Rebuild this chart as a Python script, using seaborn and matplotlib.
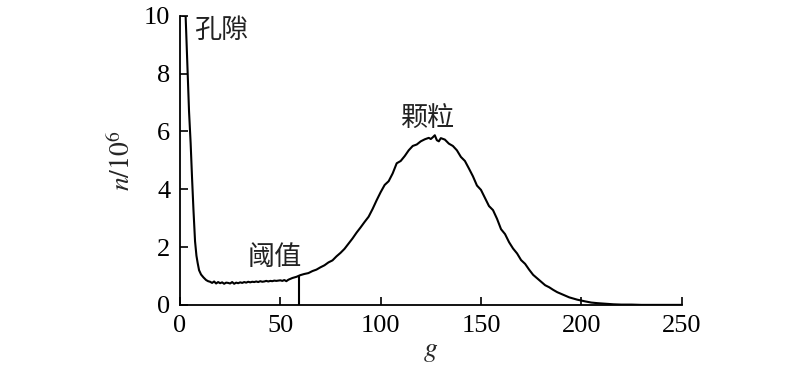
import matplotlib
matplotlib.use("Agg")
import matplotlib.pyplot as plt
import seaborn as sns
import pandas as pd

# ---- data ----
gray_level = [1.2, 2.8, 3.3, 3.8, 4.5, 5.3, 6.0, 6.7, 7.5, 8.2, 8.8, 9.5, 10.5, 11.7, 13, 14,
              15, 16, 17, 18, 19, 20, 21, 22, 23, 24, 25, 26, 27, 28, 29, 30, 31, 32, 33, 34,
              35, 36, 37, 38, 39, 40, 41, 42, 43, 44, 45, 46, 47, 48, 49, 50, 51, 52, 53, 54,
              55, 56, 57, 58, 59, 60, 62, 64, 66, 68, 70, 72, 74, 76, 78, 80, 82, 84, 86, 88,
              90, 92, 94, 96, 98, 100, 102, 104, 106, 108, 110, 112, 114, 116, 118, 120, 122,
              124, 125, 126, 127, 128, 129, 130, 132, 134, 136, 138, 140, 142, 144, 146, 148,
              150, 152, 154, 156, 158, 160, 162, 164, 166, 168, 170, 172, 174, 176, 178, 180,
              182, 184, 186, 188, 190, 192, 194, 196, 198, 200, 202, 205, 208, 212, 216, 220,
              225, 230, 240, 250]
count_1e6 = [10.0, 10.0, 9.0, 7.9, 6.7, 5.6, 4.4, 3.3, 2.2, 1.7, 1.45, 1.2, 1.05, 0.95, 0.86, 0.82,
             0.80, 0.76, 0.81, 0.74, 0.79, 0.75, 0.78, 0.73, 0.77, 0.76, 0.74, 0.79, 0.73, 0.77,
             0.75, 0.78, 0.76, 0.79, 0.77, 0.80, 0.78, 0.80, 0.79, 0.81, 0.79, 0.82, 0.80, 0.81,
             0.83, 0.81, 0.83, 0.82, 0.84, 0.83, 0.84, 0.85, 0.83, 0.86, 0.82, 0.87, 0.90, 0.93,
             0.95, 0.97, 1.00, 1.03, 1.07, 1.10, 1.17, 1.22, 1.30, 1.37, 1.47, 1.54, 1.68, 1.80,
             1.94, 2.12, 2.30, 2.50, 2.68, 2.87, 3.05, 3.32, 3.62, 3.90, 4.15, 4.28, 4.55, 4.90,
             4.98, 5.15, 5.35, 5.50, 5.55, 5.66, 5.73, 5.78, 5.74, 5.80, 5.87, 5.70, 5.66, 5.77,
             5.72, 5.58, 5.50, 5.35, 5.12, 4.98, 4.72, 4.45, 4.13, 3.98, 3.70, 3.42, 3.28, 2.98,
             2.62, 2.45, 2.17, 1.95, 1.78, 1.55, 1.42, 1.22, 1.04, 0.92, 0.80, 0.68, 0.61, 0.52,
             0.44, 0.38, 0.32, 0.26, 0.22, 0.18, 0.15, 0.12, 0.08, 0.06, 0.04, 0.02, 0.01, 0.01,
             0.0, 0.0, 0.0]
threshold_g = 59.5
threshold_n = 1.02
x_ticks = [0, 50, 100, 150, 200, 250]
y_ticks = [0, 2, 4, 6, 8, 10]
labels = ["孔隙", "阈值", "颗粒"]
label_g = [20.5, 47.0, 123.8]
label_n = [9.5, 1.65, 6.40]

df = pd.DataFrame({"g": gray_level, "n": count_1e6})

sns.set_style("ticks")
plt.rcParams["font.family"] = ["Liberation Serif", "Noto Sans CJK SC"]
plt.rcParams["mathtext.fontset"] = "stix"

fig = plt.figure(figsize=(8, 3.7), dpi=100)
ax = fig.add_axes([0.225, 0.176, 0.627, 0.781])

sns.lineplot(data=df, x="g", y="n", ax=ax, color="black", linewidth=1.5,
             estimator=None, sort=False)
ax.vlines(threshold_g, 0, threshold_n, color="black", linewidth=1.5)

ax.set_xlim(0, 250)
ax.set_ylim(0, 10)
ax.set_xticks(x_ticks)
ax.set_yticks(y_ticks)
ax.tick_params(direction="in", length=6, width=1.2, labelsize=19, pad=7, colors="black")
for s in ["top", "right"]:
    ax.spines[s].set_visible(False)
for s in ["left", "bottom"]:
    ax.spines[s].set_linewidth(1.3)
    ax.spines[s].set_color("black")

ax.set_xlabel(r"$g$", fontsize=20, labelpad=2)
ax.set_ylabel(r"$n/10^6$", fontsize=20, labelpad=6)

for t, gx, ny in zip(labels, label_g, label_n):
    ax.text(gx, ny, t, ha="center", va="center", fontsize=19.5,
            family=["Noto Sans CJK SC", "DejaVu Sans"], color="#222222")

fig.savefig("out.png", dpi=100, facecolor="white")
